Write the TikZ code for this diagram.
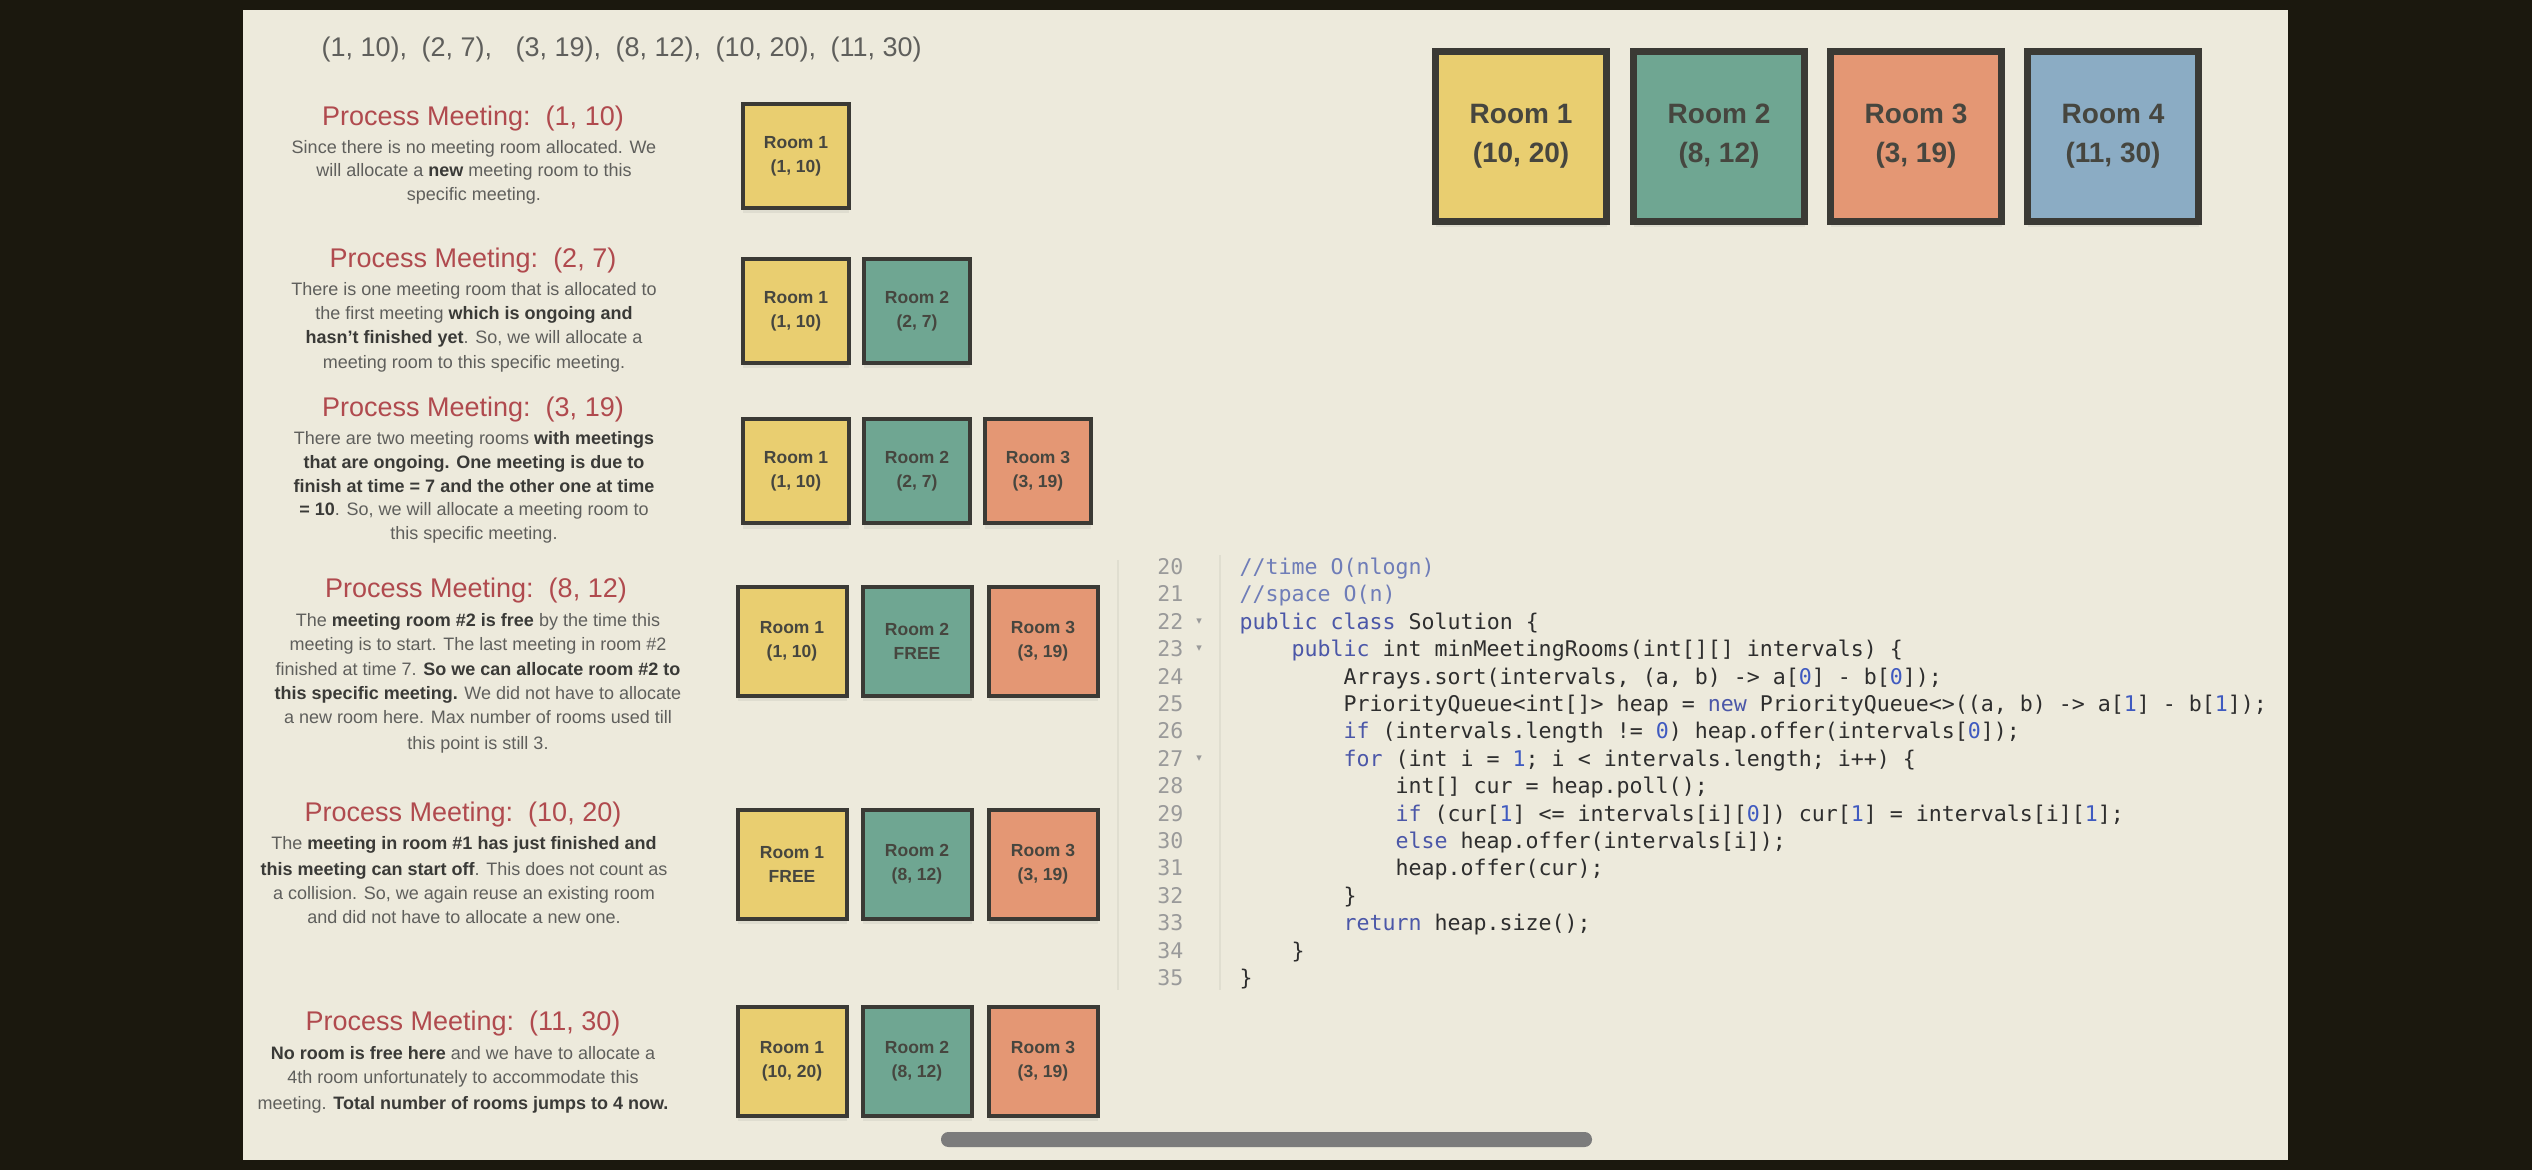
\documentclass[tikz,border=0pt]{standalone}
\usepackage{fontspec}
\setmainfont{Liberation Sans}
\setmonofont{DejaVu Sans Mono}
\newfontfamily\symfont{DejaVu Sans}
\usetikzlibrary{shadows}
\definecolor{darkbg}{RGB}{27,24,14}
\definecolor{panel}{RGB}{237,234,220}
\definecolor{titlered}{RGB}{176,74,78}
\definecolor{bodygray}{RGB}{95,95,92}
\definecolor{boldgray}{RGB}{58,58,55}
\definecolor{boxline}{RGB}{59,58,53}
\definecolor{roomtext}{RGB}{70,70,63}
\definecolor{ryel}{RGB}{233,206,112}
\definecolor{rgrn}{RGB}{111,166,146}
\definecolor{rsal}{RGB}{228,151,116}
\definecolor{rblu}{RGB}{139,172,196}
\definecolor{codetext}{RGB}{46,46,46}
\definecolor{codekw}{RGB}{75,87,168}
\definecolor{codecm}{RGB}{111,125,184}
\definecolor{codenum}{RGB}{63,90,192}
\definecolor{lnum}{RGB}{154,154,154}
\definecolor{faint}{RGB}{224,222,208}
\definecolor{scroll}{RGB}{124,124,124}
\newcommand{\hb}[1]{{\bfseries\color{boldgray}#1}}
\newcommand{\kw}[1]{\textcolor{codekw}{#1}}
\newcommand{\nm}[1]{\textcolor{codenum}{#1}}
\newcommand{\cm}[1]{\textcolor{codecm}{#1}}
\begin{document}
\begin{tikzpicture}[x=0.3pt,y=-0.3pt,
  tup/.style={anchor=base west,inner sep=0pt,text=bodygray,font=\fontsize{8.1}{9}\selectfont},
  ttl/.style={anchor=base,inner sep=0pt,text=titlered,font=\fontsize{8.1}{9}\selectfont},
  bd/.style={anchor=base,inner sep=0pt,text=bodygray,font=\fontsize{5.4}{6.5}\selectfont},
  roombox/.style={draw=boxline,align=center,text=roomtext,inner sep=0pt,
    drop shadow={opacity=0.12,shadow xshift=0pt,shadow yshift=-1.6pt}},
  smallA/.style={roombox,line width=1.2pt,minimum width=31.8pt,minimum height=31.2pt,
    font=\bfseries\fontsize{5.25}{7.2}\selectfont},
  smallB/.style={roombox,line width=1.2pt,minimum width=32.7pt,minimum height=32.7pt,
    font=\bfseries\fontsize{5.25}{7.2}\selectfont},
  bigroom/.style={roombox,line width=2.1pt,minimum width=51.3pt,minimum height=51pt,
    font=\bfseries\fontsize{8.4}{11.7}\selectfont},
  yel/.style={fill=ryel},grn/.style={fill=rgrn},sal/.style={fill=rsal},blu/.style={fill=rblu},
  ln/.style={anchor=base east,inner sep=0pt,text=lnum,font=\ttfamily\fontsize{6.48}{7}\selectfont},
  cd/.style={anchor=base west,inner sep=0pt,text=codetext,font=\ttfamily\fontsize{6.48}{7}\selectfont},
  fold/.style={inner sep=0pt,text=lnum,font=\symfont\fontsize{3.3}{4}\selectfont}
]
\useasboundingbox (0,0) rectangle (2532,1170);
\fill[darkbg] (0,0) rectangle (2532,1170);
\fill[panel] (243,10) rectangle (2288,1160);
% faint code panel lines
\draw[faint,line width=0.4pt] (1118,560) -- (1118,990);
\draw[faint,line width=0.4pt] (1220,555) -- (1220,990);

% input list
\node[tup] (tA) at (321,56.5) {(1, 10),};
\node[tup] (tB) at (421,56.5) {(2, 7),};
\node[tup] (tC) at (515,56.5) {(3, 19),};
\node[tup] (tD) at (615,56.5) {(8, 12),};
\node[tup] (tE) at (715,56.5) {(10, 20),};
\node[tup] (tF) at (830,56.5) {(11, 30)};

% step 1
\node[ttl] (s1t) at (473,126) {Process Meeting:\ \ (1, 10)};
\node[bd] (s1a) at (474,153.5) {Since there is no meeting room allocated. We};
\node[bd] (s1b) at (474,176.5) {will allocate a \hb{new} meeting room to this};
\node[bd] (s1c) at (474,200.5) {specific meeting.};
\node[smallA,yel] (r11) at (796,156) {Room 1\\(1, 10)};

% step 2
\node[ttl] (s2t) at (473,267.5) {Process Meeting:\ \ (2, 7)};
\node[bd] (s2a) at (474,295.5) {There is one meeting room that is allocated to};
\node[bd] (s2b) at (474,319.5) {the first meeting \hb{which is ongoing and}};
\node[bd] (s2c) at (474,343.5) {\hb{hasn't finished yet}. So, we will allocate a};
\node[bd] (s2d) at (474,368.5) {meeting room to this specific meeting.};
\node[smallA,yel] (r21) at (796,311) {Room 1\\(1, 10)};
\node[smallA,grn] (r22) at (917,311) {Room 2\\(2, 7)};

% step 3
\node[ttl] (s3t) at (473,416.5) {Process Meeting:\ \ (3, 19)};
\node[bd] (s3a) at (474,444.5) {There are two meeting rooms \hb{with meetings}};
\node[bd] (s3b) at (474,468.5) {\hb{that are ongoing. One meeting is due to}};
\node[bd] (s3c) at (474,492.5) {\hb{finish at time = 7 and the other one at time}};
\node[bd] (s3d) at (474,515.5) {\hb{= 10}. So, we will allocate a meeting room to};
\node[bd] (s3e) at (474,539.5) {this specific meeting.};
\node[smallA,yel] (r31) at (796,471.5) {Room 1\\(1, 10)};
\node[smallA,grn] (r32) at (917,471.5) {Room 2\\(2, 7)};
\node[smallA,sal] (r33) at (1038,471.5) {Room 3\\(3, 19)};

% step 4
\node[ttl] (s4t) at (476,597.5) {Process Meeting:\ \ (8, 12)};
\node[bd] (s4a) at (478,626.5) {The \hb{meeting room \#2 is free} by the time this};
\node[bd] (s4b) at (478,650.5) {meeting is to start. The last meeting in room \#2};
\node[bd] (s4c) at (478,675.5) {finished at time 7. \hb{So we can allocate room \#2 to}};
\node[bd] (s4d) at (478,699.5) {\hb{this specific meeting.} We did not have to allocate};
\node[bd] (s4e) at (478,723.5) {a new room here. Max number of rooms used till};
\node[bd] (s4f) at (478,749.5) {this point is still 3.};
\node[smallB,yel] (r41) at (792,641) {Room 1\\(1, 10)};
\node[smallB,grn] (r42) at (917,641) {Room 2\\FREE};
\node[smallB,sal] (r43) at (1043,641) {Room 3\\(3, 19)};

% step 5
\node[ttl] (s5t) at (463,821.5) {Process Meeting:\ \ (10, 20)};
\node[bd] (s5a) at (464,849.5) {The \hb{meeting in room \#1 has just finished and}};
\node[bd] (s5b) at (464,875.5) {\hb{this meeting can start off}. This does not count as};
\node[bd] (s5c) at (464,899.5) {a collision. So, we again reuse an existing room};
\node[bd] (s5d) at (464,923.5) {and did not have to allocate a new one.};
\node[smallB,yel] (r51) at (792,864) {Room 1\\FREE};
\node[smallB,grn] (r52) at (917,864) {Room 2\\(8, 12)};
\node[smallB,sal] (r53) at (1043,864) {Room 3\\(3, 19)};

% step 6
\node[ttl] (s6t) at (463,1030.5) {Process Meeting:\ \ (11, 30)};
\node[bd] (s6a) at (463,1059.5) {\hb{No room is free here} and we have to allocate a};
\node[bd] (s6b) at (463,1083.5) {4th room unfortunately to accommodate this};
\node[bd] (s6c) at (463,1109.5) {meeting. \hb{Total number of rooms jumps to 4 now.}};
\node[smallB,yel] (r61) at (792,1061) {Room 1\\(10, 20)};
\node[smallB,grn] (r62) at (917,1061) {Room 2\\(8, 12)};
\node[smallB,sal] (r63) at (1043,1061) {Room 3\\(3, 19)};

% final rooms
\node[bigroom,yel] (b1) at (1521,136.5) {Room 1\\(10, 20)};
\node[bigroom,grn] (b2) at (1719,136.5) {Room 2\\(8, 12)};
\node[bigroom,sal] (b3) at (1916,136.5) {Room 3\\(3, 19)};
\node[bigroom,blu] (b4) at (2113,136.5) {Room 4\\(11, 30)};

% code line numbers
\foreach \n [count=\i from 0] in {20,...,35} {
  \node[ln] (ln\n) at (1184,574.5+27.4*\i) {\n};
}
\node[fold] (f22) at (1199,621.5) {▾};
\node[fold] (f23) at (1199,648.9) {▾};
\node[fold] (f27) at (1199,758.5) {▾};

% code
\node[cd] (c20) at (1239,574.5) {\cm{//time O(nlogn)}};
\node[cd] (c21) at (1239,601.9) {\cm{//space O(n)}};
\node[cd] (c22) at (1239,629.3) {\kw{public class} Solution \{};
\node[cd] (c23) at (1291,656.7) {\kw{public} int minMeetingRooms(int[][] intervals) \{};
\node[cd] (c24) at (1343,684.1) {Arrays.sort(intervals, (a, b) -> a[\nm{0}] - b[\nm{0}]);};
\node[cd] (c25) at (1343,711.5) {PriorityQueue<int[]> heap = \kw{new} PriorityQueue<>((a, b) -> a[\nm{1}] - b[\nm{1}]);};
\node[cd] (c26) at (1343,738.9) {\kw{if} (intervals.length != \nm{0}) heap.offer(intervals[\nm{0}]);};
\node[cd] (c27) at (1343,766.3) {\kw{for} (int i = \nm{1}; i < intervals.length; i++) \{};
\node[cd] (c28) at (1395,793.7) {int[] cur = heap.poll();};
\node[cd] (c29) at (1395,821.1) {\kw{if} (cur[\nm{1}] <= intervals[i][\nm{0}]) cur[\nm{1}] = intervals[i][\nm{1}];};
\node[cd] (c30) at (1395,848.5) {\kw{else} heap.offer(intervals[i]);};
\node[cd] (c31) at (1395,875.9) {heap.offer(cur);};
\node[cd] (c32) at (1343,903.3) {\}};
\node[cd] (c33) at (1343,930.7) {\kw{return} heap.size();};
\node[cd] (c34) at (1291,958.1) {\}};
\node[cd] (c35) at (1239,985.5) {\}};

% scrollbar
\fill[scroll,rounded corners=2.2pt] (941,1132) rectangle (1592,1147);
\end{tikzpicture}
\end{document}
